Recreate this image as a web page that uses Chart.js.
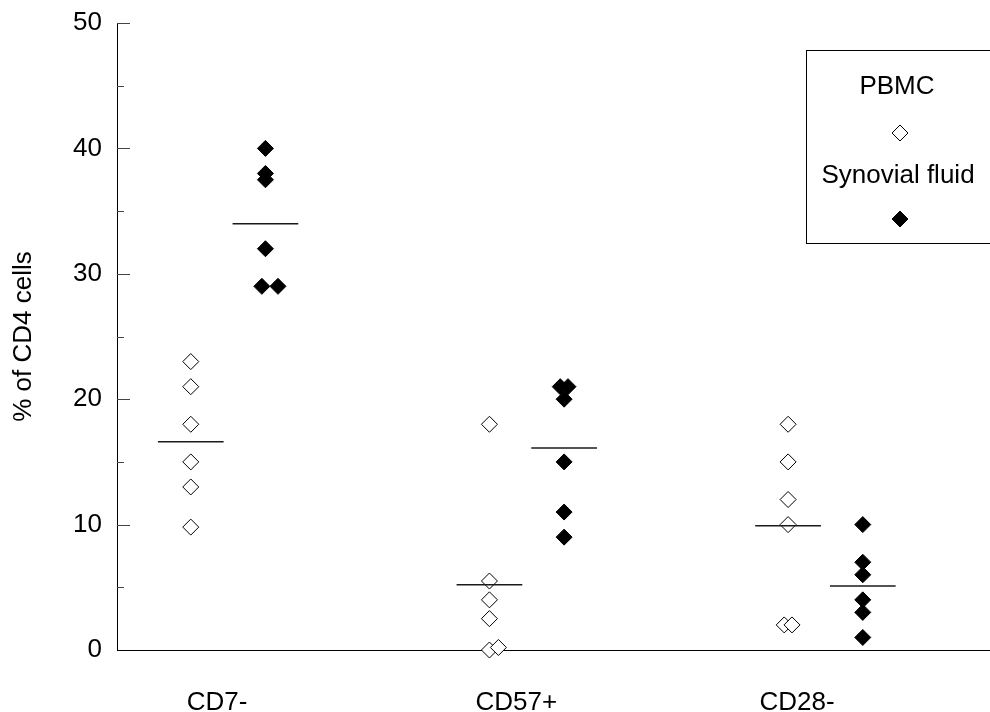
<!DOCTYPE html>
<html><head><meta charset="utf-8">
<script src="https://cdn.jsdelivr.net/npm/chart.js@4/dist/chart.umd.min.js"></script>
<style>html,body{margin:0;padding:0;background:#fff;overflow:hidden}canvas{display:block}</style>
</head><body><canvas id="c" width="990" height="712" style="width:990px;height:712px"></canvas>
<script>
// ---- data ----
const categories = ['CD7-', 'CD57+', 'CD28-'];
const seriesNames = ['PBMC', 'Synovial fluid'];
const pbmcValues = [[23, 21, 18, 15, 13, 9.8], [18, 5.5, 4, 2.5, 0, 0.2], [18, 15, 12, 10, 2, 2]];
const sfValues = [[40, 38, 37.5, 32, 29, 29], [21, 21, 20, 15, 11, 9], [10, 7, 6, 4, 3, 1]];
const pbmcMeans = [16.6, 5.2, 9.9];
const sfMeans = [34.0, 16.1, 5.1];
const yTicks = [0, 10, 20, 30, 40, 50];
const yMinorTicks = [5, 15, 25, 35, 45];
const yTitle = '% of CD4 cells';

// ---- layout (positions in category units) ----
const pbmcDodge = [[0, 0, 0, 0, 0, 0], [0, 0, 0, 0, 0, 0.03], [0, 0, 0, 0, -0.013, 0.013]];
const sfDodge = [[0, 0, 0, 0, -0.012, 0.042], [-0.013, 0.013, 0, 0, 0, 0], [0, 0, 0, 0, 0, 0]];
const groupOffset = [0, 0.25];
const meanHalfWidth = 0.11;
const labelPositions = [1.088, 2.09, 3.03];
const FONT = '"Liberation Sans", Arial, sans-serif';

function pts(values, dodge, off) {
  const out = [];
  values.forEach((arr, i) => arr.forEach((v, j) => out.push({x: i + 1 + off + dodge[i][j], y: v})));
  return out;
}
const seriesFill = ['#ffffff', '#000000'];

const datasets = [
  {type: 'scatter', label: seriesNames[0], data: pts(pbmcValues, pbmcDodge, groupOffset[0]),
   pointStyle: 'rectRot', pointRadius: 8, pointBackgroundColor: seriesFill[0], pointBorderColor: '#000', pointBorderWidth: 1, order: 2, clip: false},
  {type: 'scatter', label: seriesNames[1], data: pts(sfValues, sfDodge, groupOffset[1]),
   pointStyle: 'rectRot', pointRadius: 8, pointBackgroundColor: seriesFill[1], pointBorderColor: '#000', pointBorderWidth: 1, order: 2, clip: false}
];
[pbmcMeans, sfMeans].forEach((means, s) => {
  means.forEach((m, i) => {
    const c = i + 1 + groupOffset[s];
    datasets.push({type: 'line', label: 'mean', data: [{x: c - meanHalfWidth, y: m}, {x: c + meanHalfWidth, y: m}],
      borderColor: '#1a1a1a', borderWidth: 1.5, pointRadius: 0, fill: false, order: 0});
  });
});

const inwardTicks = {
  id: 'inwardTicks',
  afterDraw(chart) {
    const ctx = chart.ctx, y = chart.scales.y, x0 = chart.chartArea.left;
    ctx.save();
    ctx.strokeStyle = '#444';
    ctx.lineWidth = 1;
    ctx.beginPath();
    yTicks.forEach(v => { if (v === 0) return; const p = Math.round(y.getPixelForValue(v)) + 0.5; ctx.moveTo(x0, p); ctx.lineTo(x0 + 13, p); });
    yMinorTicks.forEach(v => { const p = Math.round(y.getPixelForValue(v)) + 0.5; ctx.moveTo(x0, p); ctx.lineTo(x0 + 7, p); });
    ctx.stroke();
    ctx.restore();
  }
};

const boxLegend = {
  id: 'boxLegend',
  afterDraw(chart) {
    const ctx = chart.ctx;
    ctx.save();
    ctx.strokeStyle = '#000';
    ctx.lineWidth = 1;
    ctx.strokeRect(806.5, 50.5, 220, 193);
    ctx.fillStyle = '#000';
    ctx.font = '26px ' + FONT;
    ctx.textAlign = 'center';
    ctx.textBaseline = 'middle';
    ctx.fillText(seriesNames[0], 897, 87);
    ctx.fillText(seriesNames[1], 898, 176);
    [[133, 0], [219, 1]].forEach(([py, s]) => {
      ctx.fillStyle = seriesFill[s];
      ctx.strokeStyle = '#000';
      ctx.lineWidth = 1;
      Chart.helpers.drawPoint(ctx, {pointStyle: 'rectRot', radius: 8, borderWidth: 1, rotation: 0}, 900, py);
    });
    ctx.restore();
  }
};

function zeroPad(s) { s.paddingLeft = 0; s.paddingRight = 0; s.paddingTop = 0; s.paddingBottom = 0; }

new Chart(document.getElementById('c'), {
  data: {datasets},
  options: {
    responsive: false, animation: false, devicePixelRatio: 1,
    layout: {autoPadding: false, padding: {top: 23, left: 0, right: 0, bottom: 0}},
    plugins: {legend: {display: false}, tooltip: {enabled: false}},
    scales: {
      x: {
        type: 'linear', min: 0.753, max: 3.676,
        grid: {display: false, drawTicks: false},
        border: {display: true, color: '#000', width: 1},
        afterBuildTicks: s => { s.ticks = labelPositions.map(v => ({value: v})); },
        afterFit: s => { s.height = 62; zeroPad(s); },
        ticks: {
          padding: 37, color: '#000', font: {family: FONT, size: 26}, maxRotation: 0, autoSkip: false,
          callback: (v, i) => categories[i]
        }
      },
      y: {
        type: 'linear', min: 0, max: 50,
        grid: {display: false, drawTicks: false},
        border: {display: true, color: '#000', width: 1},
        afterBuildTicks: s => { s.ticks = yTicks.map(v => ({value: v})); },
        afterFit: s => { s.width = 117; zeroPad(s); },
        ticks: {padding: 15, color: '#000', font: {family: FONT, size: 26}},
        title: {display: true, text: yTitle, color: '#000', font: {family: FONT, size: 26}, padding: {top: 8, bottom: 0}}
      }
    }
  },
  plugins: [inwardTicks, boxLegend]
});
</script></body></html>
